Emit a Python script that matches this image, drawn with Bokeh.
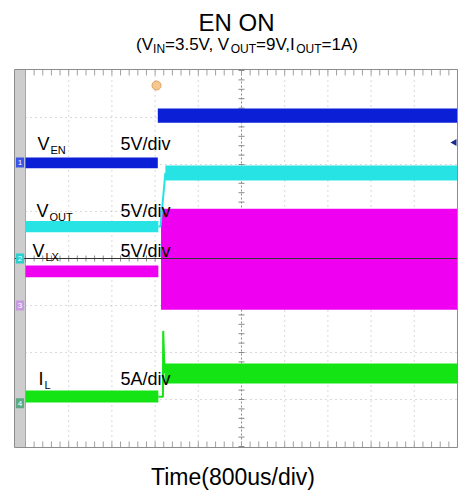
import math
from bokeh.plotting import figure
from bokeh.models import Range1d
from bokeh.core.properties import value
from bokeh.embed import file_html
from bokeh.resources import INLINE

# ---------------- data ----------------
TITLE = "EN ON"
X_LABEL = "Time(800us/div)"
T_PER_DIV = 800           # us per division
N_TDIV = 10
N_VDIV = 8

channel_scale_labels = ["5V/div", "5V/div", "5V/div", "5A/div"]
channel_scales = [5.0, 5.0, 5.0, 5.0]          # V/div, V/div, V/div, A/div
channel_zero_div = [2.04, 0.0, -1.0, -3.08]     # ground markers (div)
channel_markers = ["1", "2", "3", "4"]

# V_EN (V) - envelope of trace
ven_time = [0, 2450, 2450, 8000]
ven_min = [-0.6, -0.6, 4.25, 4.25]
ven_max = [0.55, 0.55, 5.75, 5.75]

# V_OUT (V)
vout_pre_time = [0, 2460]
vout_pre_min = [2.8, 2.8]
vout_pre_max = [4.0, 4.0]
vout_ramp_time = [2460, 2500, 2590]
vout_ramp_val = [3.4, 3.4, 9.1]
vout_post_time = [2590, 8000]
vout_post_min = [8.3, 8.3]
vout_post_max = [9.9, 9.9]

# V_LX (V)
vlx_pre_time = [0, 2460]
vlx_pre_min = [3.0, 3.0]
vlx_pre_max = [4.25, 4.25]
vlx_sw_time = [2510, 8000]
vlx_sw_min = [-0.45, -0.45]
vlx_sw_max = [10.3, 10.3]

# I_L (A)
il_pre_time = [0, 2460]
il_pre_min = [0.08, 0.08]
il_pre_max = [1.35, 1.35]
il_spike_time = [2460, 2545, 2550, 2575]
il_spike_val = [0.7, 0.7, 7.7, 3.2]
il_post_time = [2575, 8000]
il_post_min = [2.1, 2.1]
il_post_max = [4.23, 4.23]

# ---------------- style / layout ----------------
BLUE = "#0a1fd6"
CYAN = "#27e3e3"
MAGENTA = "#f000f0"
GREEN = "#14e414"
FONT = "Liberation Sans"

W, H = 459, 493
GRID_LEFT, GRID_RIGHT = 25.0, 457.0
PX_DIV_X = (GRID_RIGHT - GRID_LEFT) / N_TDIV
PX_DIV_Y = 47.0
Y_CENTER = 258.0
TEXT_SHIFT = 0.35   # empirical baseline correction (fraction of font size)


def px2t(px):
    return (px - GRID_LEFT) / PX_DIV_X * T_PER_DIV


def py2d(py):
    return (Y_CENTER - py) / PX_DIV_Y


X0, X1 = px2t(0), px2t(W)
Y0, Y1 = py2d(H), py2d(0)
SCOPE_L, SCOPE_R = px2t(14), N_TDIV * T_PER_DIV
SCOPE_B, SCOPE_T = py2d(447), py2d(69)


def to_div(vals, ch):
    return [channel_zero_div[ch] + v / channel_scales[ch] for v in vals]


p = figure(width=W, height=H, output_backend="svg", toolbar_location=None,
           x_range=Range1d(X0, X1), y_range=Range1d(Y0, Y1),
           min_border_left=0, min_border_right=0, min_border_top=0, min_border_bottom=0)
p.xaxis.visible = False
p.yaxis.visible = False
p.xgrid.visible = False
p.ygrid.visible = False
p.outline_line_color = None
p.background_fill_color = "white"
p.border_fill_color = "white"

# left gray strip
p.quad(left=[SCOPE_L], right=[0], bottom=[SCOPE_B], top=[SCOPE_T], fill_color="#cdcdcd",
       line_color=None)
p.segment(x0=[0], y0=[SCOPE_B], x1=[0], y1=[SCOPE_T], line_color="#a8a8a8", line_width=1)

# grid
GRID = "#b4b4b4"
vx = [k * T_PER_DIV for k in range(1, N_TDIV) if k != N_TDIV // 2]
p.segment(x0=vx, y0=[-4] * len(vx), x1=vx, y1=[4] * len(vx),
          line_color=GRID, line_dash="1 4", line_width=1)
hy = [j for j in range(-3, 4) if j != 0]
p.segment(x0=[0] * len(hy), y0=hy, x1=[SCOPE_R] * len(hy), y1=hy,
          line_color=GRID, line_dash="1 4", line_width=1)
# centre vertical line
p.segment(x0=[4000], y0=[SCOPE_B], x1=[4000], y1=[SCOPE_T], line_color="#8a8a8a",
          line_dash="2 2", line_width=1)
# ticks
tick_t = [i * T_PER_DIV / 5 for i in range(0, N_TDIV * 5 + 1)]
th = 3 / PX_DIV_Y
p.segment(x0=tick_t, y0=[-th] * len(tick_t), x1=tick_t, y1=[th] * len(tick_t),
          line_color="#8a8a8a", line_width=1)
p.segment(x0=tick_t, y0=[SCOPE_T] * len(tick_t), x1=tick_t, y1=[SCOPE_T - 2 * th] * len(tick_t),
          line_color="#a0a0a0", line_width=1)
p.segment(x0=tick_t, y0=[SCOPE_B] * len(tick_t), x1=tick_t, y1=[SCOPE_B + 2 * th] * len(tick_t),
          line_color="#a0a0a0", line_width=1)
tick_y = [j * 0.2 for j in range(-20, 21)]
tw = 3 / PX_DIV_X * T_PER_DIV
p.segment(x0=[4000 - tw] * len(tick_y), y0=tick_y, x1=[4000 + tw] * len(tick_y), y1=tick_y,
          line_color="#8a8a8a", line_width=1)

# traces
p.varea(x=vlx_pre_time, y1=to_div(vlx_pre_min, 2), y2=to_div(vlx_pre_max, 2), fill_color=MAGENTA)
p.varea(x=vlx_sw_time, y1=to_div(vlx_sw_min, 2), y2=to_div(vlx_sw_max, 2), fill_color=MAGENTA)

p.varea(x=vout_pre_time, y1=to_div(vout_pre_min, 1), y2=to_div(vout_pre_max, 1), fill_color=CYAN)
p.line(vout_ramp_time, to_div(vout_ramp_val, 1), line_color=CYAN, line_width=2)
p.varea(x=vout_post_time, y1=to_div(vout_post_min, 1), y2=to_div(vout_post_max, 1), fill_color=CYAN)

p.varea(x=ven_time, y1=to_div(ven_min, 0), y2=to_div(ven_max, 0), fill_color=BLUE)

p.varea(x=il_pre_time, y1=to_div(il_pre_min, 3), y2=to_div(il_pre_max, 3), fill_color=GREEN)
p.line(il_spike_time, to_div(il_spike_val, 3), line_color=GREEN, line_width=2)
p.varea(x=il_post_time, y1=to_div(il_post_min, 3), y2=to_div(il_post_max, 3), fill_color=GREEN)

# centre horizontal (dark) line
p.segment(x0=[SCOPE_L], y0=[0], x1=[SCOPE_R], y1=[0], line_color="#333333", line_width=1)

# scope border
p.quad(left=[SCOPE_L], right=[SCOPE_R], bottom=[SCOPE_B], top=[SCOPE_T], fill_color=None,
       line_color="#8c8c8c", line_width=1)

# channel markers on the left strip
marker_colors = ["#3a55e6", "#2ccfcf", "#c79ae0", "#5ea883"]
mx = SCOPE_L / 2
p.rect(x=[mx] * 4, y=channel_zero_div, width=abs(SCOPE_L) * 0.75, height=10 / PX_DIV_Y,
       fill_color=marker_colors, line_color=None)
p.text(x=[mx] * 4, y=channel_zero_div, text=channel_markers, text_color="white",
       text_font=value(FONT), text_font_size=value("8px"), text_align="center",
       text_baseline="middle")

# trigger marker and level arrow
p.scatter(x=[px2t(156)], y=[py2d(85)], size=9, marker="circle", fill_color="#f5c890",
          line_color="#e0a060")
p.scatter(x=[px2t(454)], y=[py2d(142)], size=7, marker="triangle", angle=math.pi / 2,
          fill_color="#1a2a8a", line_color=None)


def add_text(x_px, y_px, txt, size, align="left"):
    p.text(x=[px2t(x_px)], y=[py2d(y_px - TEXT_SHIFT * size)], text=[txt], text_color="black",
           text_font=value(FONT), text_font_size=value(f"{size}px"), text_align=align,
           text_baseline="alphabetic")


# Arial advance widths (1/1000 em)
AW = {'(': 333, ')': 333, 'V': 667, 'I': 278, 'N': 722, 'O': 778, 'U': 722, 'T': 611,
      '=': 584, '3': 556, '.': 278, '5': 556, ',': 278, ' ': 278, '9': 556, '1': 556, 'A': 667,
      'E': 667, 'L': 556, 'X': 667}


def tw_px(txt, size):
    return sum(AW[c] for c in txt) / 1000 * size


# channel labels: (x, baseline, main, sub)
MAIN_SZ, SUB_SZ = 18, 11
chan_labels = [(37, 150, "V", "EN"), (36, 217, "V", "OUT"), (32, 257, "V", "LX"),
               (38, 385, "I", "L")]
for (rx, ry, m, s), sl in zip(chan_labels, channel_scale_labels):
    add_text(rx, ry, m, MAIN_SZ)
    add_text(rx + tw_px(m, MAIN_SZ) + 1, ry + 3, s, SUB_SZ)
    add_text(120, ry, sl, MAIN_SZ)

# title and x label
add_text(236, 30, TITLE, 24, "center")
add_text(232.5, 485, X_LABEL, 23, "center")

# subtitle with subscripts
pieces = [("(V", False), ("IN", True), ("=3.5V, V", False), ("OUT", True),
          ("=9V,I", False), ("OUT", True), ("=1A)", False)]
SUB_MAIN, SUB_SUB = 17, 12
total = sum(tw_px(t, SUB_SUB if s else SUB_MAIN) for t, s in pieces)
cx = 246.5 - total / 2
for txt, is_sub in pieces:
    sz = SUB_SUB if is_sub else SUB_MAIN
    add_text(cx, 53 if is_sub else 50, txt, sz)
    cx += tw_px(txt, sz)

open("out.html", "w").write(file_html(p, INLINE))
